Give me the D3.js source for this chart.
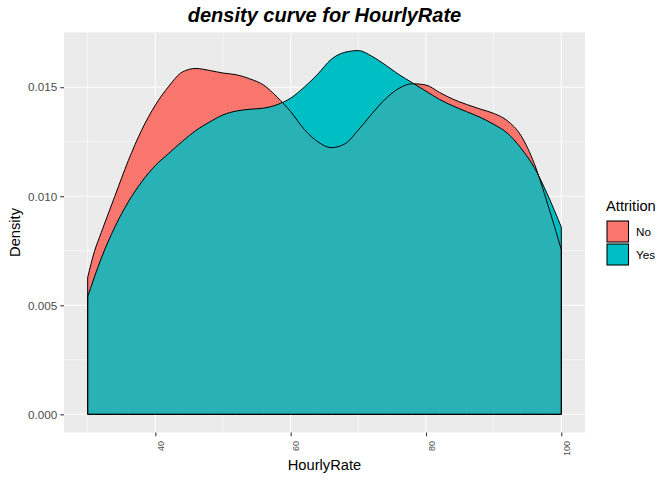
<!DOCTYPE html>
<html>
<head>
<meta charset="utf-8">
<script src="https://cdn.jsdelivr.net/npm/d3@7"></script>
<style>
  html, body { margin: 0; padding: 0; background: #ffffff; }
  svg { display: block; font-family: "Liberation Sans", Arial, sans-serif; }
</style>
</head>
<body>
<svg id="chart" width="672" height="480"></svg>
<script>
// ---- data ----
const categories = ["No", "Yes"];
const hourlyRate = [30, 31, 32, 34, 36, 38, 40, 42, 44, 46, 48, 50, 52, 54, 56, 58, 60, 62, 64, 66, 68, 70,
                    72, 74, 76, 78, 80, 82, 84, 86, 88, 90, 92, 94, 96, 98, 100];
const densityNo = [0.00628, 0.00747, 0.00833, 0.00999, 0.01163, 0.01305, 0.01418, 0.01505, 0.01570, 0.01586,
                   0.01577, 0.01565, 0.01557, 0.01538, 0.01510, 0.01455, 0.01388, 0.01307, 0.01250, 0.01223,
                   0.01240, 0.01304, 0.01378, 0.01446, 0.01495, 0.01516, 0.01510, 0.01476, 0.01445, 0.01421,
                   0.01400, 0.01380, 0.01347, 0.01280, 0.01150, 0.00962, 0.00755];
const densityYes = [0.00539, 0.00630, 0.00715, 0.00858, 0.00974, 0.01067, 0.01141, 0.01197, 0.01252, 0.01302,
                    0.01340, 0.01373, 0.01391, 0.01399, 0.01404, 0.01420, 0.01450, 0.01500, 0.01560, 0.01628,
                    0.01660, 0.01668, 0.01642, 0.01602, 0.01558, 0.01520, 0.01482, 0.01444, 0.01414, 0.01388,
                    0.01362, 0.01330, 0.01290, 0.01222, 0.01132, 0.01005, 0.00858];
const xTicks = [40, 60, 80, 100];
const xMinor = [30, 50, 70, 90];
const yTicks = [0, 0.005, 0.010, 0.015];
const yMinor = [0.0025, 0.0075, 0.0125];
const colors = ["#F8766D", "#00BFC4"];
const overlapColor = "#28B2B5";

// ---- layout ----
const svg = d3.select("#chart");
const panel = { left: 64, right: 585, top: 32.4, bottom: 432.5 };

const xMin = d3.min(hourlyRate), xMax = d3.max(hourlyRate);
const xPad = (xMax - xMin) * 0.05;
const x = d3.scaleLinear().domain([xMin - xPad, xMax + xPad]).range([panel.left, panel.right]);
const yMaxData = d3.max(densityNo.concat(densityYes));
const yPad = yMaxData * 0.05;
const y = d3.scaleLinear().domain([-yPad, yMaxData + yPad]).range([panel.bottom, panel.top]);

// panel background
svg.append("rect")
  .attr("x", panel.left).attr("y", panel.top)
  .attr("width", panel.right - panel.left).attr("height", panel.bottom - panel.top)
  .attr("fill", "#EBEBEB");

// grid lines
const grid = svg.append("g");
grid.selectAll(".ymin").data(yMinor).enter().append("line")
  .attr("x1", panel.left).attr("x2", panel.right)
  .attr("y1", d => y(d)).attr("y2", d => y(d))
  .attr("stroke", "#ffffff").attr("stroke-width", 0.53);
grid.selectAll(".xmin").data(xMinor).enter().append("line")
  .attr("y1", panel.top).attr("y2", panel.bottom)
  .attr("x1", d => x(d)).attr("x2", d => x(d))
  .attr("stroke", "#ffffff").attr("stroke-width", 0.53);
grid.selectAll(".ymaj").data(yTicks).enter().append("line")
  .attr("x1", panel.left).attr("x2", panel.right)
  .attr("y1", d => y(d)).attr("y2", d => y(d))
  .attr("stroke", "#ffffff").attr("stroke-width", 1.07);
grid.selectAll(".xmaj").data(xTicks).enter().append("line")
  .attr("y1", panel.top).attr("y2", panel.bottom)
  .attr("x1", d => x(d)).attr("x2", d => x(d))
  .attr("stroke", "#ffffff").attr("stroke-width", 1.07);

// density areas
const area = vals => d3.area()
  .x((d, i) => x(hourlyRate[i]))
  .y0(y(0))
  .y1(d => y(d))
  .curve(d3.curveMonotoneX)(vals);

const defs = svg.append("defs");
defs.append("clipPath").attr("id", "clipNo")
  .append("path").attr("d", area(densityNo));

svg.append("path").attr("d", area(densityNo)).attr("fill", colors[0]);
svg.append("path").attr("d", area(densityYes)).attr("fill", colors[1]);
svg.append("path").attr("d", area(densityYes)).attr("fill", overlapColor)
  .attr("clip-path", "url(#clipNo)");
svg.append("path").attr("d", area(densityNo)).attr("fill", "none")
  .attr("stroke", "#000").attr("stroke-width", 1).attr("stroke-linejoin", "round");
svg.append("path").attr("d", area(densityYes)).attr("fill", "none")
  .attr("stroke", "#000").attr("stroke-width", 1).attr("stroke-linejoin", "round");

// y axis
const yAxis = svg.append("g")
  .attr("transform", `translate(${panel.left},0)`)
  .call(d3.axisLeft(y).tickValues(yTicks).tickFormat(d3.format(".3f")).tickSize(3.7).tickPadding(3));
yAxis.select(".domain").remove();
yAxis.selectAll(".tick line").attr("stroke", "#333333").attr("stroke-width", 1.07);
yAxis.selectAll(".tick text").attr("fill", "#4D4D4D").attr("font-size", "11.7px")
  .attr("font-family", "Liberation Sans, Arial, sans-serif");

// x axis
const xAxis = svg.append("g")
  .attr("transform", `translate(0,${panel.bottom})`)
  .call(d3.axisBottom(x).tickValues(xTicks).tickFormat(d3.format("d")).tickSize(3.7).tickPadding(3));
xAxis.select(".domain").remove();
xAxis.selectAll(".tick line").attr("stroke", "#333333").attr("stroke-width", 1.07);
xAxis.selectAll(".tick text")
  .attr("fill", "#4D4D4D").attr("font-size", "9px")
  .attr("font-family", "Liberation Sans, Arial, sans-serif")
  .attr("text-anchor", "end")
  .attr("transform", "rotate(-90)")
  .attr("x", -8.5).attr("y", 0).attr("dy", "8.2px");

// axis titles
svg.append("text")
  .attr("x", (panel.left + panel.right) / 2).attr("y", 470)
  .attr("text-anchor", "middle").attr("font-size", "14.7px").attr("fill", "#000")
  .text("HourlyRate");
svg.append("text")
  .attr("transform", `translate(20,${(panel.top + panel.bottom) / 2}) rotate(-90)`)
  .attr("text-anchor", "middle").attr("font-size", "14.7px").attr("fill", "#000")
  .text("Density");

// title
svg.append("text")
  .attr("x", (panel.left + panel.right) / 2).attr("y", 22)
  .attr("text-anchor", "middle").attr("font-size", "20px")
  .attr("font-weight", "bold").attr("font-style", "italic").attr("fill", "#000")
  .text("density curve for HourlyRate");

// legend
const legend = svg.append("g").attr("transform", "translate(606,0)");
legend.append("text").attr("x", 0).attr("y", 211)
  .attr("font-size", "14.7px").attr("fill", "#000").text("Attrition");
const keys = legend.selectAll(".key").data(categories).enter().append("g")
  .attr("transform", (d, i) => `translate(0,${220 + i * 23})`);
keys.append("rect")
  .attr("x", 1).attr("y", 1).attr("width", 21.5).attr("height", 21)
  .attr("fill", (d, i) => colors[i]).attr("stroke", "#000").attr("stroke-width", 1.07);
keys.append("text")
  .attr("x", 30).attr("y", 11.5).attr("dy", "0.35em")
  .attr("font-size", "11.7px").attr("fill", "#000")
  .text(d => d);
</script>
</body>
</html>
